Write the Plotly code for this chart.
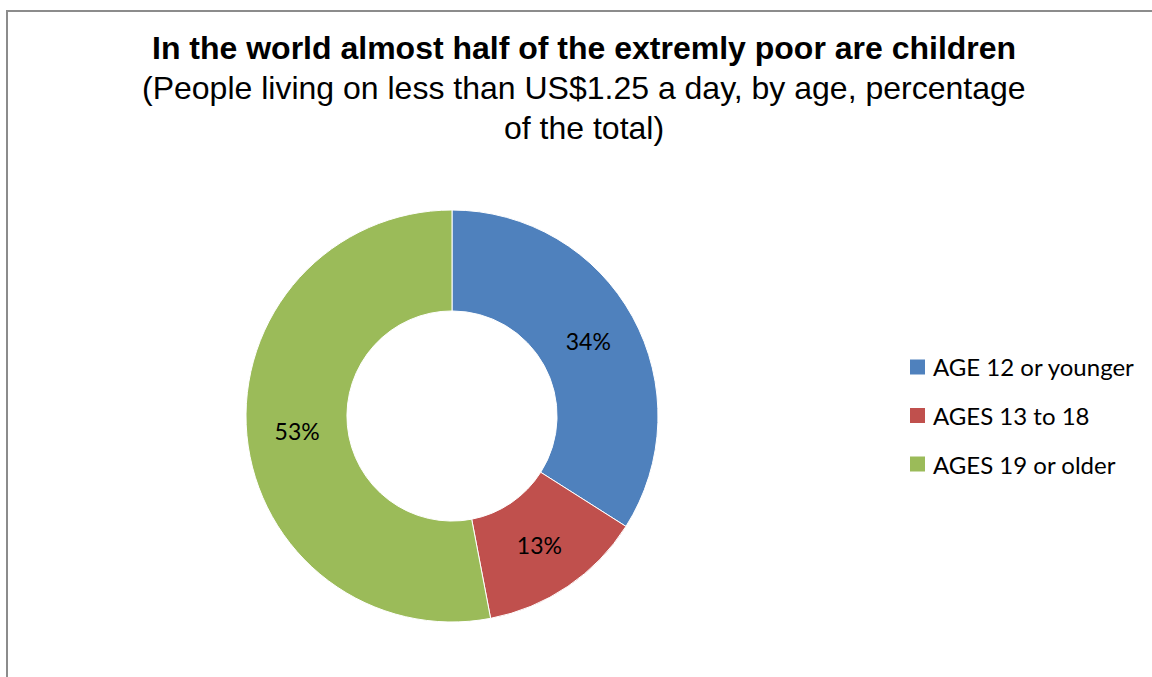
import plotly.graph_objects as go

# Share of people living on less than US$1.25 a day, by age group (%)
age_groups = ["AGE 12 or younger", "AGES 13 to 18", "AGES 19 or older"]
shares = [34, 13, 53]
slice_colors = ["#4F81BD", "#C0504D", "#9BBB59"]

title_lines = [
    "<b>In the world almost half of the extremly poor are children</b>",
    "(People living on less than US$1.25 a day, by age, percentage",
    "of the total)",
]

W, H = 1152, 677


def px(x):
    return x / W


def py(y):
    return 1 - y / H


# donut placement (pixels)
cx, cy, r = 452, 416, 206

fig = go.Figure(
    go.Pie(
        labels=age_groups,
        values=shares,
        hole=0.51,
        sort=False,
        direction="clockwise",
        rotation=0,
        marker=dict(colors=slice_colors, line=dict(color="white", width=1)),
        textinfo="percent",
        texttemplate="%{percent:.0%}",
        textposition="inside",
        insidetextorientation="horizontal",
        textfont=dict(family="Lato, Calibri, sans-serif", size=23, color="black"),
        domain=dict(x=[px(cx - r), px(cx + r)], y=[py(cy + r), py(cy - r)]),
        showlegend=False,
        hoverinfo="label+percent",
    )
)

# chart frame
shapes = [
    dict(
        type="rect", xref="paper", yref="paper",
        x0=px(7), x1=1.02, y0=-0.02, y1=py(11),
        line=dict(color="#8C8C8C", width=2), fillcolor="rgba(0,0,0,0)",
    )
]
annotations = []

# title block
title_y = [48, 88, 128]
for text, y in zip(title_lines, title_y):
    annotations.append(dict(
        text=text, x=px(584), y=py(y), xref="paper", yref="paper",
        xanchor="center", yanchor="middle", showarrow=False,
        font=dict(family="Liberation Sans, Arial, sans-serif", size=32, color="black"),
    ))

# legend: colour swatch + label per age group
legend_x, legend_y0, legend_step, sw = 910, 367, 48.5, 15
for i, (label, color) in enumerate(zip(age_groups, slice_colors)):
    yc = legend_y0 + i * legend_step
    shapes.append(dict(
        type="rect", xref="paper", yref="paper",
        x0=px(legend_x), x1=px(legend_x + sw),
        y0=py(yc + sw / 2), y1=py(yc - sw / 2),
        line=dict(width=0), fillcolor=color,
    ))
    annotations.append(dict(
        text=label, x=px(legend_x + sw + 6), y=py(yc), xref="paper", yref="paper",
        xanchor="left", yanchor="middle", showarrow=False,
        font=dict(family="Lato, Calibri, sans-serif", size=24, color="black"),
    ))

fig.update_layout(
    width=W, height=H,
    margin=dict(l=0, r=0, t=0, b=0),
    paper_bgcolor="white",
    plot_bgcolor="white",
    shapes=shapes,
    annotations=annotations,
)

fig.write_html("out.html")
